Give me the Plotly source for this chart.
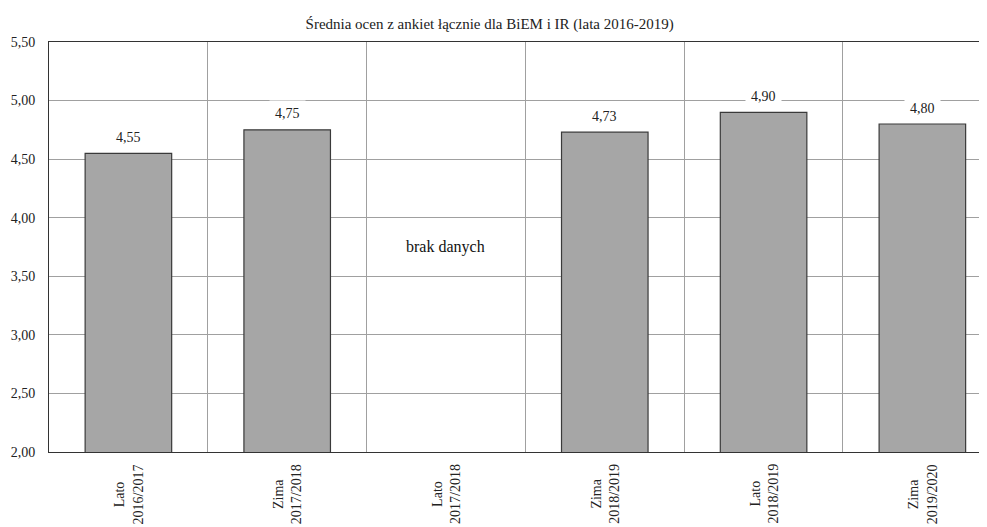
import plotly.graph_objects as go

title_text = "Średnia ocen z ankiet łącznie dla BiEM i IR (lata 2016-2019)"
seasons = ["Lato", "Zima", "Lato", "Zima", "Lato", "Zima"]
years = ["2016/2017", "2017/2018", "2017/2018", "2018/2019", "2018/2019", "2019/2020"]
values = [4.55, 4.75, None, 4.73, 4.90, 4.80]
missing_text = "brak danych"
y_ticks = [2.0, 2.5, 3.0, 3.5, 4.0, 4.5, 5.0, 5.5]

categories = [f"{s} {y}" for s, y in zip(seasons, years)]
FONT = "Liberation Serif"
TXT = "#222222"

fig = go.Figure()
fig.add_trace(go.Bar(
    x=categories, y=values, width=0.545,
    marker=dict(color="#a6a6a6", line=dict(color="#3a3a3a", width=1.2)),
    hoverinfo="skip", showlegend=False,
))

annotations = []
shapes = []
for i, (cat, v) in enumerate(zip(categories, values)):
    if v is None:
        shapes.append(dict(type="rect", layer="between", xref="x", yref="paper",
                           x0=i - 0.48, x1=i + 0.48, y0=0.002, y1=0.997,
                           fillcolor="white", line=dict(width=0)))
        annotations.append(dict(x=cat, y=0.5, xref="x", yref="paper", text=missing_text,
                                showarrow=False, font=dict(family=FONT, size=16, color="#111")))
    else:
        annotations.append(dict(x=cat, y=v, xref="x", yref="y",
                                text=f"{v:.2f}".replace(".", ","), showarrow=False,
                                yanchor="middle", yshift=16, bgcolor="white", borderpad=5,
                                font=dict(family=FONT, size=14, color=TXT)))
    annotations.append(dict(x=cat, y=0, xref="x", yref="paper",
                            text=f"{seasons[i]}<br>{years[i]}", showarrow=False,
                            textangle=-90, yanchor="top", xanchor="center", align="center",
                            yshift=-10, font=dict(family=FONT, size=14, color=TXT)))

# page body has an 8px default margin, so the figure is offset by (8, 8)
fig.update_layout(
    width=979, height=519,
    margin=dict(l=41, r=0, t=34, b=75),
    paper_bgcolor="white", plot_bgcolor="white",
    separators=", ",
    font=dict(family=FONT, size=14, color=TXT),
    title=dict(text=title_text, x=0.492, xref="container", xanchor="center",
               y=0.969, yref="container", yanchor="middle",
               font=dict(family=FONT, size=15, color=TXT)),
    xaxis=dict(type="category", range=[-0.5, 5.407], tickson="boundaries",
               showgrid=True, gridcolor="#a0a0a0", gridwidth=1,
               showticklabels=False, ticks="",
               showline=True, linecolor="#333333", linewidth=1, mirror=True,
               zeroline=False),
    yaxis=dict(range=[2.0, 5.5], tickvals=y_ticks, tickformat=".2f",
               showgrid=True, gridcolor="#a0a0a0", gridwidth=1,
               showline=True, linecolor="#333333", linewidth=1, mirror=False,
               ticks="", ticklabelstandoff=10, zeroline=False,
               tickfont=dict(family=FONT, size=14, color=TXT)),
    annotations=annotations,
    shapes=shapes,
)

fig.write_html("out.html")
